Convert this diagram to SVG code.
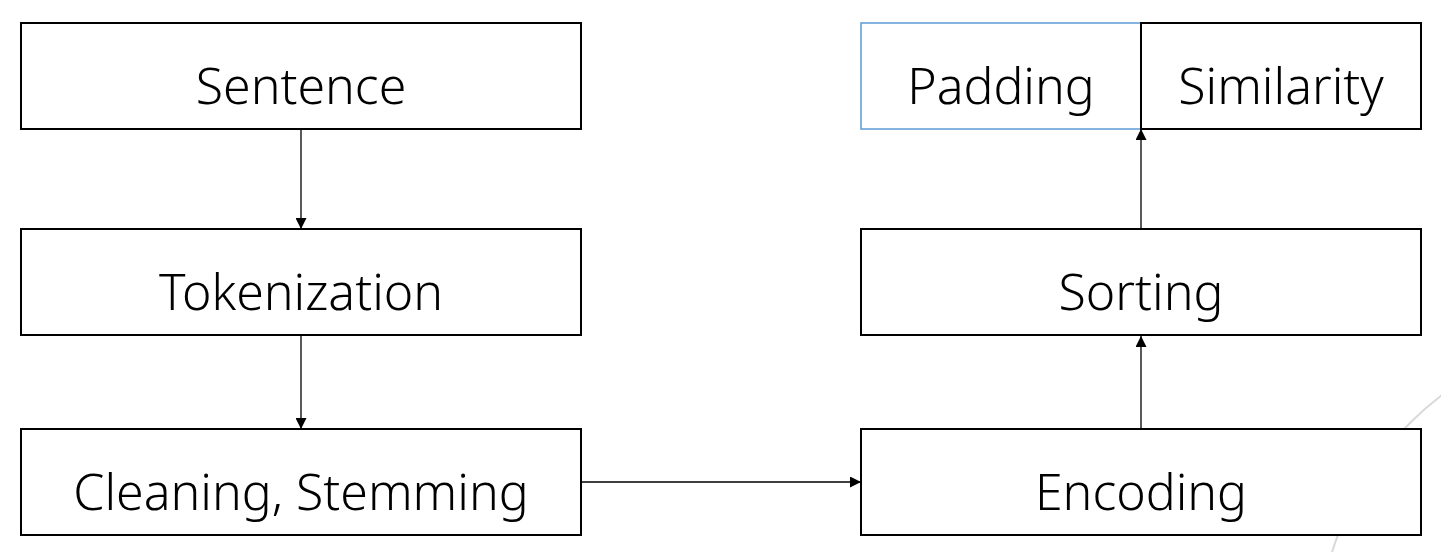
<svg xmlns="http://www.w3.org/2000/svg" width="1441" height="552" viewBox="0 0 1441 552">
<style>
.box{fill:#fff;stroke:#000;stroke-width:2}
.blue{fill:#fff;stroke:#5b9bd5;stroke-width:1.5}
.lbl{font-family:"Noto Sans","Open Sans",sans-serif;font-size:50px;font-weight:300;fill:#000;text-anchor:middle;dominant-baseline:central}
.edge{stroke:#000;stroke-width:1.3;fill:none;marker-end:url(#ah)}
</style>
<defs>
<marker id="ah" viewBox="0 0 10 10" refX="10" refY="5" markerWidth="11" markerHeight="11" markerUnits="userSpaceOnUse" orient="auto">
<path d="M0,0 L10,5 L0,10 Z" fill="#000"/>
</marker>
</defs>
<rect width="1441" height="552" fill="#fff"/>
<circle cx="1632" cy="645" r="314" fill="none" stroke="#d9d9d9" stroke-width="2"/>
<g id="connectors">
<line class="edge" x1="301" y1="130" x2="301" y2="229"/>
<line class="edge" x1="301" y1="336" x2="301" y2="429"/>
<line class="edge" x1="581" y1="482" x2="861" y2="482"/>
<line class="edge" x1="1141" y1="429" x2="1141" y2="336"/>
<line class="edge" x1="1141" y1="236" x2="1141" y2="129"/>
</g>
<g id="sentence"><rect class="box" x="21" y="23" width="560" height="106"/><text class="lbl" x="301" y="85">Sentence</text></g>
<g id="tokenization"><rect class="box" x="21" y="229" width="560" height="106"/><text class="lbl" x="301" y="291">Tokenization</text></g>
<g id="cleaning"><rect class="box" x="21" y="429" width="560" height="106"/><text class="lbl" x="301" y="491">Cleaning, Stemming</text></g>
<g id="padding"><rect class="blue" x="861" y="23" width="280" height="106"/><text class="lbl" x="1001" y="85">Padding</text></g>
<g id="similarity"><rect class="box" x="1141" y="23" width="280" height="106"/><text class="lbl" x="1281" y="85">Similarity</text></g>
<g id="sorting"><rect class="box" x="861" y="229" width="560" height="106"/><text class="lbl" x="1141" y="291">Sorting</text></g>
<g id="encoding"><rect class="box" x="861" y="429" width="560" height="106"/><text class="lbl" x="1141" y="491">Encoding</text></g>
</svg>
